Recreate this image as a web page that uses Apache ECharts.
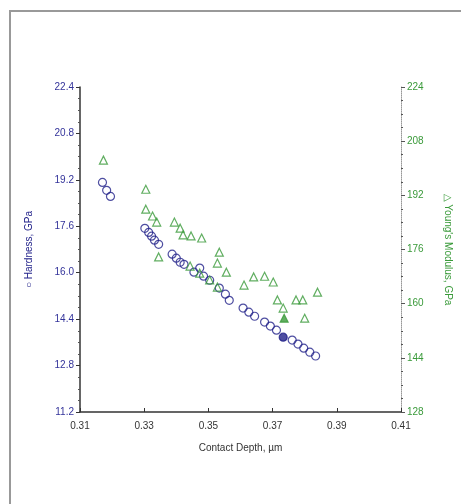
<!DOCTYPE html>
<html>
<head>
<meta charset="utf-8">
<script src="https://cdn.jsdelivr.net/npm/echarts@6/dist/echarts.min.js"></script>
<style>
  html, body { margin: 0; padding: 0; background: #fff; overflow: hidden; }
  #chart { width: 461px; height: 504px; }
</style>
</head>
<body>
<div id="chart"></div>
<script>
// hardness (left axis) - contact depth in um
var depthH = [0.3170, 0.3183, 0.3195, 0.3302, 0.3314, 0.3323, 0.3332, 0.3345, 0.3387, 0.3400,
  0.3412, 0.3424, 0.3455, 0.3473, 0.3485, 0.3504, 0.3534, 0.3553, 0.3565, 0.3608,
  0.3626, 0.3644, 0.3675, 0.3693, 0.3712, 0.3733, 0.3761, 0.3779, 0.3797, 0.3816, 0.3834];
var hardness = [19.11, 18.84, 18.63, 17.53, 17.39, 17.26, 17.12, 16.98, 16.64, 16.50,
  16.36, 16.29, 16.02, 16.16, 15.88, 15.74, 15.47, 15.26, 15.05, 14.78,
  14.64, 14.50, 14.30, 14.16, 14.02, 13.78, 13.68, 13.54, 13.40, 13.26, 13.13];
var filledH = 25;

// young's modulus (right axis)
var depthE = [0.3173, 0.3305, 0.3305, 0.3326, 0.3339, 0.3345, 0.3394, 0.3412, 0.3421, 0.3446,
  0.3479, 0.3534, 0.3528, 0.3556, 0.3611, 0.3641, 0.3675, 0.3702, 0.3715, 0.3733,
  0.3736, 0.3773, 0.3794, 0.3800, 0.3840, 0.3443, 0.3473, 0.3504, 0.3528];
var modulus = [202.4, 193.8, 187.9, 185.9, 184.1, 173.8, 184.1, 182.3, 180.3, 180.0,
  179.4, 175.2, 172.0, 169.3, 165.5, 167.9, 168.1, 166.4, 161.1, 158.7,
  155.7, 161.1, 161.1, 155.7, 163.4, 171.1, 169.0, 167.0, 164.9];
var filledE = 20;

var xTicks = [0.31, 0.33, 0.35, 0.37, 0.39, 0.41];
var leftTicks = [11.2, 12.8, 14.4, 16.0, 17.6, 19.2, 20.8, 22.4];
var rightTicks = [128, 144, 160, 176, 192, 208, 224];

var blue = '#22228a';
var green = '#3a9a3a';

var hData = depthH.map(function(d, i) {
  var item = { value: [d, hardness[i]] };
  if (i === filledH) item.itemStyle = { color: blue };
  return item;
});
var eData = depthE.map(function(d, i) {
  var item = { value: [d, modulus[i]] };
  if (i === filledE) item.itemStyle = { color: green };
  return item;
});

var chart = echarts.init(document.getElementById('chart'));
chart.setOption({
  animation: false,
  backgroundColor: '#fff',
  graphic: [{
    type: 'rect',
    shape: { x: 10, y: 11, width: 520, height: 560 },
    style: { fill: 'none', stroke: '#999', lineWidth: 2 }
  }],
  grid: { left: 80, right: 54, top: 87, bottom: 92 },
  xAxis: {
    type: 'value',
    min: xTicks[0], max: xTicks[xTicks.length - 1], interval: 0.02,
    name: 'Contact Depth, µm',
    nameLocation: 'middle', nameGap: 31,
    nameTextStyle: { color: '#333', fontSize: 10, fontFamily: 'Liberation Sans' },
    axisLine: { lineStyle: { color: '#333', width: 1.5 } },
    axisTick: { inside: true, length: 4, lineStyle: { color: '#333' } },
    axisLabel: { color: '#333', fontSize: 10, margin: 9, fontFamily: 'Liberation Sans',
      formatter: function(v) { return v.toFixed(2); } },
    splitLine: { show: false }
  },
  yAxis: [{
    type: 'value',
    position: 'left',
    min: leftTicks[0], max: leftTicks[leftTicks.length - 1], interval: 1.6,
    name: '○ Hardness, GPa',
    nameLocation: 'middle', nameGap: 46, nameRotate: 90,
    nameTextStyle: { color: blue, fontSize: 10, fontFamily: 'Liberation Sans' },
    axisLine: { show: true, lineStyle: { color: '#333', width: 1.5 } },
    axisTick: { length: 4, lineStyle: { color: '#333' } },
    minorTick: { show: true, splitNumber: 4, length: 2, lineStyle: { color: '#555' } },
    axisLabel: { color: '#33339a', fontSize: 10, margin: 6, fontFamily: 'Liberation Sans',
      formatter: function(v) { return v.toFixed(1); } },
    splitLine: { show: false }
  }, {
    type: 'value',
    position: 'right',
    min: rightTicks[0], max: rightTicks[rightTicks.length - 1], interval: 16,
    name: '△ Young\'s Modulus, GPa',
    nameLocation: 'middle', nameGap: 42, nameRotate: -90,
    nameTextStyle: { color: green, fontSize: 10, fontFamily: 'Liberation Sans' },
    axisLine: { show: true, lineStyle: { color: '#999', width: 1, type: 'dotted' } },
    axisTick: { length: 4, lineStyle: { color: '#555' } },
    minorTick: { show: true, splitNumber: 4, length: 2, lineStyle: { color: '#555' } },
    axisLabel: { color: green, fontSize: 10, margin: 6, fontFamily: 'Liberation Sans' },
    splitLine: { show: false }
  }],
  series: [{
    name: 'Hardness',
    type: 'scatter',
    yAxisIndex: 0,
    symbol: 'circle',
    symbolSize: 8,
    itemStyle: { color: 'rgba(255,255,255,0)', borderColor: blue, borderWidth: 1.2 },
    data: hData
  }, {
    name: 'Modulus',
    type: 'scatter',
    yAxisIndex: 1,
    symbol: 'triangle',
    symbolSize: 8,
    itemStyle: { color: 'rgba(255,255,255,0)', borderColor: green, borderWidth: 1.2 },
    data: eData
  }]
});
</script>
</body>
</html>
